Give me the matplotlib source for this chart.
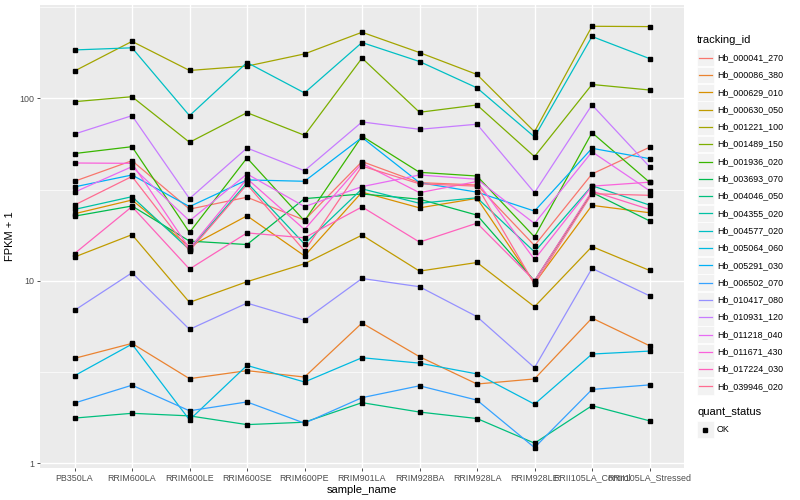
import numpy as np
import matplotlib
matplotlib.use("Agg")
import matplotlib.pyplot as plt
from matplotlib.lines import Line2D
from matplotlib.patches import Rectangle

plt.rcParams['font.family'] = ['Liberation Sans', 'DejaVu Sans']

samples = ["PB350LA", "RRIM600LA", "RRIM600LE", "RRIM600SE", "RRIM600PE",
           "RRIM901LA", "RRIM928BA", "RRIM928LA", "RRIM928LE",
           "RRII105LA_Control", "RRII105LA_Stressed"]

tracking_ids = ["Hb_000041_270", "Hb_000086_380", "Hb_000629_010", "Hb_000630_050",
                "Hb_001221_100", "Hb_001489_150", "Hb_001936_020", "Hb_003693_070",
                "Hb_004046_050", "Hb_004355_020", "Hb_004577_020", "Hb_005064_060",
                "Hb_005291_030", "Hb_006502_070", "Hb_010417_080", "Hb_010931_120",
                "Hb_011218_040", "Hb_011671_430", "Hb_017224_030", "Hb_039946_020"]

# FPKM + 1 values, per tracking_id, in sample order
Hb_000041_270 = [35.1, 45.5, 24.7, 28.7, 21.5, 45.0, 34.5, 33.5, 15.6, 38.5, 53.9]
Hb_000086_380 = [3.76, 4.54, 2.91, 3.22, 2.97, 5.87, 3.84, 2.72, 2.90, 6.25, 4.41]
Hb_000629_010 = [23.3, 27.7, 15.4, 22.7, 13.7, 30.6, 25.1, 28.3, 9.7, 25.9, 23.6]
Hb_000630_050 = [13.5, 17.9, 7.62, 9.89, 12.4, 17.8, 11.3, 12.6, 7.21, 15.4, 11.4]
Hb_001221_100 = [141, 205, 142, 150, 175, 230, 178, 135, 65.6, 248, 247]
Hb_001489_150 = [95.8, 102, 57.4, 83.4, 62.7, 166, 83.8, 91.9, 47.9, 119, 111]
Hb_001936_020 = [49.8, 54.3, 18.4, 47.1, 21.3, 62.0, 39.3, 37.5, 17.4, 64.8, 34.7]
Hb_003693_070 = [22.6, 25.7, 16.5, 15.8, 28.2, 29.9, 28.0, 22.9, 10.0, 30.5, 21.3]
Hb_004046_050 = [1.77, 1.88, 1.82, 1.63, 1.68, 2.15, 1.91, 1.76, 1.29, 2.07, 1.71]
Hb_004355_020 = [24.6, 28.9, 14.8, 34.5, 15.9, 31.9, 26.6, 28.5, 14.4, 33.2, 26.0]
Hb_004577_020 = [184, 189, 80.3, 157, 107, 202, 159, 114, 61.4, 218, 165]
Hb_005064_060 = [3.02, 4.50, 1.73, 3.44, 2.79, 3.79, 3.54, 3.09, 2.11, 3.97, 4.12]
Hb_005291_030 = [32.7, 38.0, 25.5, 35.7, 35.1, 61.0, 34.5, 30.6, 24.1, 53.2, 46.7]
Hb_006502_070 = [2.14, 2.68, 1.94, 2.17, 1.66, 2.29, 2.66, 2.22, 1.22, 2.54, 2.69]
Hb_010417_080 = [6.89, 11.07, 5.42, 7.55, 6.08, 10.3, 9.28, 6.36, 3.34, 11.7, 8.28]
Hb_010931_120 = [63.7, 80.3, 28.2, 53.4, 40.1, 74.2, 67.6, 72.1, 30.4, 92.0, 42.2]
Hb_011218_040 = [30.6, 42.2, 21.3, 38.5, 25.5, 32.8, 38.0, 36.0, 20.6, 50.9, 31.2]
Hb_011671_430 = [44.2, 44.0, 15.0, 36.3, 19.1, 44.0, 30.4, 35.0, 13.1, 33.0, 34.7]
Hb_017224_030 = [14.1, 25.5, 11.6, 18.3, 17.2, 25.4, 16.3, 20.7, 10.0, 31.0, 24.6]
Hb_039946_020 = [26.0, 37.3, 14.6, 33.7, 14.6, 42.5, 34.0, 33.0, 9.6, 30.0, 29.4]

series = [Hb_000041_270, Hb_000086_380, Hb_000629_010, Hb_000630_050, Hb_001221_100,
          Hb_001489_150, Hb_001936_020, Hb_003693_070, Hb_004046_050, Hb_004355_020,
          Hb_004577_020, Hb_005064_060, Hb_005291_030, Hb_006502_070, Hb_010417_080,
          Hb_010931_120, Hb_011218_040, Hb_011671_430, Hb_017224_030, Hb_039946_020]

colors = ["#F8766D", "#EA8331", "#D89000", "#C09B00", "#A3A500", "#7CAE00", "#39B600",
          "#00BB4E", "#00BF7D", "#00C1A3", "#00BFC4", "#00BAE0", "#00B0F6", "#35A2FF",
          "#9590FF", "#C77CFF", "#E76BF3", "#FA62DB", "#FF62BC", "#FF6C91"]

quant_status = ["OK"]

W, H = 800, 500
fig = plt.figure(figsize=(8, 5), dpi=100)
fig.patch.set_facecolor("white")

def fx(px):
    return px / W

def fy(py):
    return 1 - py / H

ax = fig.add_axes([fx(40), fy(468), fx(684) - fx(40), fy(5) - fy(468)])
ax.set_facecolor("#EBEBEB")
ax.set_yscale("log")
ax.set_xlim(-0.6, len(samples) - 1 + 0.6)
ax.set_ylim(10 ** -0.0255, 10 ** 2.511)

# grid
for v in [1, 10, 100]:
    ax.axhline(v, color="white", lw=1.0, zorder=0)
for v in [10 ** 0.5, 10 ** 1.5, 10 ** 2.5]:
    ax.axhline(v, color="white", lw=0.5, zorder=0)
for i in range(len(samples)):
    ax.axvline(i, color="white", lw=1.0, zorder=0)

x = np.arange(len(samples))
for vals, c in zip(series, colors):
    ax.plot(x, vals, color=c, lw=0.9, zorder=2, solid_capstyle="butt")
    ax.plot(x, vals, linestyle="none", marker="s", ms=3.2, color="black", zorder=3)

for s in ax.spines.values():
    s.set_visible(False)

ax.set_yticks([1, 10, 100])
ax.set_yticklabels(["1", "10", "100"])
ax.yaxis.set_minor_locator(matplotlib.ticker.NullLocator())
ax.set_xticks(x)
ax.set_xticklabels(samples)
ax.tick_params(axis="both", which="major", length=2.5, width=0.6, color="#333333",
               labelsize=6.4, labelcolor="#4D4D4D", pad=1.5)

ax.set_xlabel("sample_name", fontsize=8, color="black", labelpad=2)
ax.set_ylabel("FPKM + 1", fontsize=8, color="black", labelpad=3)

# legend (manual, ggplot style)
fig.text(fx(697), fy(40), "tracking_id", fontsize=8, ha="left", va="center")
row_h = 17.3
y0 = 57.7
for i, (name, c) in enumerate(zip(tracking_ids, colors)):
    yc = y0 + i * row_h
    fig.patches.append(Rectangle((fx(697), fy(yc + 8.3)), fx(16.6), fy(0) - fy(16.6),
                                 transform=fig.transFigure, facecolor="#F2F2F2",
                                 edgecolor="white", lw=0.5))
    fig.lines.append(Line2D([fx(698.5), fx(712)], [fy(yc), fy(yc)],
                            transform=fig.transFigure, color=c, lw=0.9))
    fig.text(fx(717), fy(yc), name, fontsize=6.4, ha="left", va="center")

fig.text(fx(697), fy(412), "quant_status", fontsize=8, ha="left", va="center")
yq = 429.5
fig.patches.append(Rectangle((fx(697), fy(yq + 8.3)), fx(16.6), fy(0) - fy(16.6),
                             transform=fig.transFigure, facecolor="#F2F2F2",
                             edgecolor="white", lw=0.5))
fig.lines.append(Line2D([fx(705)], [fy(yq)], transform=fig.transFigure,
                        linestyle="none", marker="s", ms=3.2, color="black"))
fig.text(fx(717), fy(yq), quant_status[0], fontsize=6.4, ha="left", va="center")

fig.savefig("out.png", dpi=100)
